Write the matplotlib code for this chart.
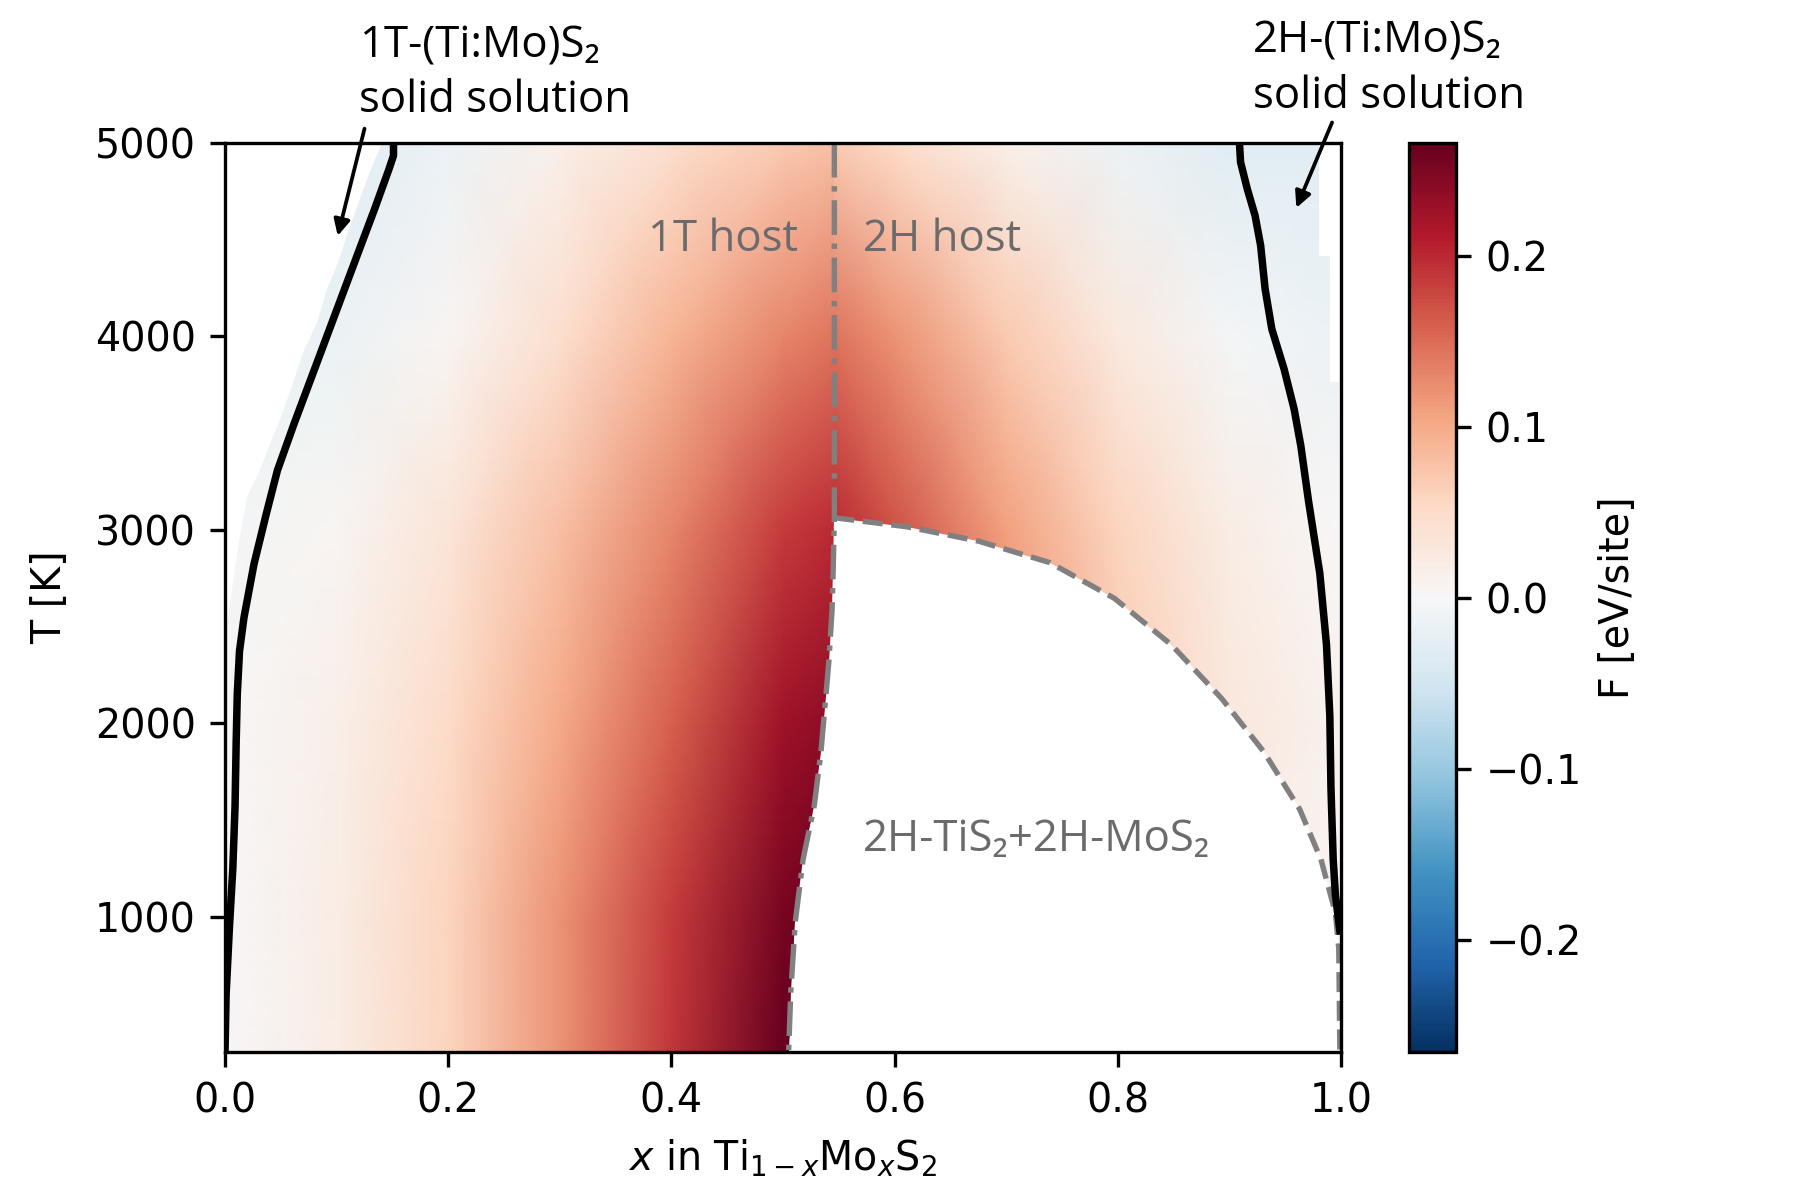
import numpy as np
import matplotlib
matplotlib.use("Agg")
import matplotlib.pyplot as plt
from matplotlib.patches import Polygon

# free energy of mixing [eV/site]
T_grid = [300, 1000, 2000, 3000, 4000, 5000]

x_1t = [0.0, 0.1, 0.2, 0.3, 0.4, 0.5, 0.55]
F_1t = [
    [0.000, 0.020, 0.060, 0.120, 0.190, 0.265, 0.275],
    [0.000, 0.020, 0.060, 0.120, 0.185, 0.255, 0.268],
    [0.000, 0.015, 0.050, 0.100, 0.160, 0.225, 0.240],
    [-0.005, 0.005, 0.035, 0.080, 0.130, 0.185, 0.200],
    [-0.020, -0.015, 0.005, 0.045, 0.090, 0.130, 0.145],
    [-0.030, -0.030, -0.015, 0.015, 0.045, 0.070, 0.080],
]

x_2h = [0.545, 0.6, 0.7, 0.8, 0.9, 1.0]
F_2h = [
    [0.220, 0.200, 0.130, 0.070, 0.020, 0.000],
    [0.220, 0.200, 0.130, 0.070, 0.020, 0.005],
    [0.220, 0.200, 0.130, 0.070, 0.030, 0.010],
    [0.200, 0.170, 0.110, 0.060, 0.020, 0.000],
    [0.145, 0.120, 0.070, 0.025, -0.005, -0.015],
    [0.070, 0.050, 0.015, -0.015, -0.030, -0.030],
]

# extent of the sampled points
edge_left_x = [0.0, 0.0, 0.004, 0.011, 0.020, 0.031, 0.040, 0.050, 0.061,
               0.071, 0.082, 0.091, 0.101, 0.111, 0.122, 0.131, 0.141]
edge_left_T = [300, 2450, 2581, 2875, 3170, 3308, 3446, 3585, 3758,
               3931, 4069, 4242, 4381, 4554, 4727, 4865, 5000]
edge_right_x = [0.980, 0.980, 0.990, 0.990, 0.998, 0.998]
edge_right_T = [5000, 4417, 4417, 3762, 3762, 900]

# phase boundaries
sol1t_x = [0.151, 0.151, 0.147, 0.134, 0.116, 0.098, 0.080, 0.062, 0.047, 0.037,
           0.026, 0.017, 0.013, 0.011, 0.010, 0.009, 0.007, 0.004, 0.001, 0.0]
sol1t_T = [5000, 4934, 4865, 4657, 4381, 4104, 3827, 3550, 3308, 3083,
           2824, 2547, 2374, 2150, 1900, 1572, 1250, 950, 600, 300]
sol2h_x = [0.909, 0.910, 0.916, 0.923, 0.928, 0.932, 0.938, 0.949, 0.958,
           0.964, 0.971, 0.981, 0.987, 0.990, 0.991, 0.993, 0.995, 0.999]
sol2h_T = [5000, 4900, 4762, 4624, 4469, 4245, 4038, 3831, 3624,
           3434, 3145, 2776, 2406, 2037, 1667, 1298, 1113, 928]
host_x = [0.546, 0.546, 0.545, 0.544, 0.541, 0.534, 0.528, 0.518, 0.511, 0.507, 0.505]
host_T = [5000, 3062, 2800, 2591, 2314, 1852, 1575, 1298, 975, 617, 300]
gap_x = [0.546, 0.547, 0.611, 0.675, 0.739, 0.797, 0.848, 0.893, 0.931,
         0.963, 0.982, 0.995, 0.998, 0.999]
gap_T = [3062, 3062, 3016, 2942, 2831, 2646, 2406, 2129, 1852,
         1556, 1298, 1020, 836, 300]

vlim = 0.266
ann_font = ["Open Sans", "DejaVu Sans"]
grey_txt = "#6b6b6b"

plt.rcParams["font.size"] = 9.5

fig = plt.figure(figsize=(6, 4), dpi=300)
ax = fig.add_axes([0.125, 0.123, 0.62, 0.758])
cax = fig.add_axes([0.783, 0.123, 0.026, 0.758])

# 1T host region
poly_1t = list(zip(edge_left_x, edge_left_T)) + list(zip(host_x, host_T))
m1 = ax.pcolormesh(x_1t, T_grid, np.array(F_1t), shading="gouraud",
                   cmap="RdBu_r", vmin=-vlim, vmax=vlim, zorder=1)
m1.set_clip_path(Polygon(poly_1t, closed=True, transform=ax.transData))

# 2H host region
poly_2h = ([(host_x[0], host_T[0])] + list(zip(edge_right_x, edge_right_T))
           + list(zip(gap_x[::-1], gap_T[::-1])))
m2 = ax.pcolormesh(x_2h, T_grid, np.array(F_2h), shading="gouraud",
                   cmap="RdBu_r", vmin=-vlim, vmax=vlim, zorder=1)
m2.set_clip_path(Polygon(poly_2h, closed=True, transform=ax.transData))

ax.plot(host_x, host_T, color="grey", ls="-.", lw=1.3, zorder=2)
ax.plot(gap_x, gap_T, color="grey", ls="--", lw=1.3, zorder=2)
ax.plot(sol1t_x, sol1t_T, color="k", lw=1.8, zorder=3, solid_joinstyle="round")
ax.plot(sol2h_x, sol2h_T, color="k", lw=1.8, zorder=3, solid_joinstyle="round")

ax.set_xlim(0, 1)
ax.set_ylim(300, 5000)
ax.set_xticks([0.0, 0.2, 0.4, 0.6, 0.8, 1.0])
ax.set_yticks([1000, 2000, 3000, 4000, 5000])
ax.set_xlabel(r"$x$ in Ti$_{1-x}$Mo$_x$S$_2$")
ax.set_ylabel("T [K]", labelpad=6)

cb = fig.colorbar(m1, cax=cax)
cb.set_ticks([-0.2, -0.1, 0.0, 0.1, 0.2])
cb.set_label("F [eV/site]")

# region labels
ax.text(0.514, 4443, "1T host", ha="right", va="baseline", color=grey_txt,
        fontsize=10.5, family=ann_font)
ax.text(0.572, 4443, "2H host", ha="left", va="baseline", color=grey_txt,
        fontsize=10.5, family=ann_font)
ax.text(0.572, 1340, "2H-TiS₂+2H-MoS₂", ha="left", va="baseline", color=grey_txt,
        fontsize=10.5, family=ann_font)

# solid solution labels
ax.text(0.121, 5440, "1T-(Ti:Mo)S₂", ha="left", va="baseline",
        fontsize=10.5, family=ann_font)
ax.text(0.120, 5157, "solid solution", ha="left", va="baseline",
        fontsize=10.5, family=ann_font)
ax.text(0.921, 5465, "2H-(Ti:Mo)S₂", ha="left", va="baseline",
        fontsize=10.5, family=ann_font)
ax.text(0.921, 5182, "solid solution", ha="left", va="baseline",
        fontsize=10.5, family=ann_font)

arrow = dict(arrowstyle="-|>", color="k", lw=0.9, mutation_scale=8,
             shrinkA=0, shrinkB=0)
ax.annotate("", xy=(0.101, 4519), xytext=(0.125, 5073),
            arrowprops=arrow, annotation_clip=False)
ax.annotate("", xy=(0.960, 4664), xytext=(0.992, 5105),
            arrowprops=arrow, annotation_clip=False)

fig.savefig("out.png", dpi=300)
